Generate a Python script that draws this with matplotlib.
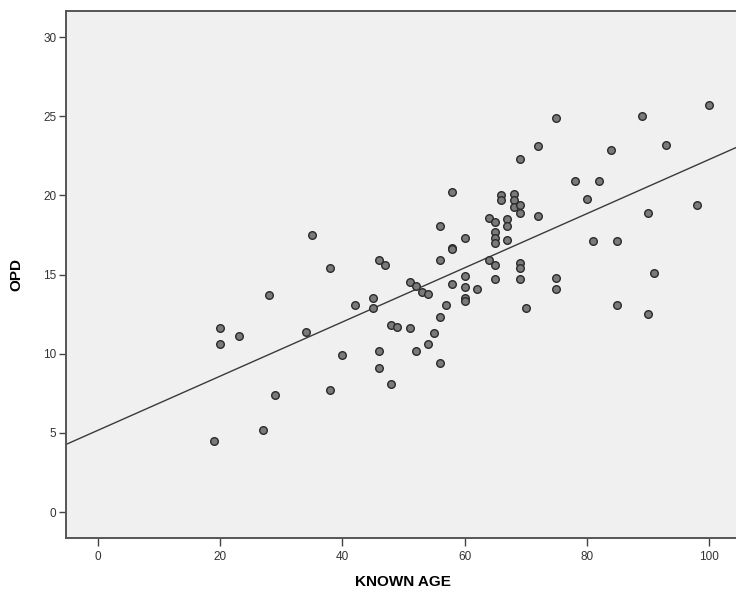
import matplotlib.pyplot as plt
import numpy as np

plt.rcParams['font.family'] = ['Liberation Sans', 'DejaVu Sans']

# known age (years) and OPD measurement per case
known_age = [19, 27, 29, 20, 20, 23, 28, 34, 35, 38, 38, 40, 42, 45, 45,
             46, 47, 46, 46, 48, 48, 49, 51, 52, 51, 52, 53, 54, 54, 55,
             56, 56, 57, 56, 56, 58, 58, 58, 58, 60, 60, 60, 60, 60, 62,
             64, 64, 65, 65, 65, 65, 65, 65, 66, 66, 67, 67, 67, 68, 68,
             68, 69, 69, 69, 69, 69, 69, 70, 72, 72, 75, 75, 75, 78, 80,
             81, 82, 84, 85, 85, 89, 90, 90, 91, 93, 98, 100]
opd = [4.5, 5.2, 7.4, 11.6, 10.6, 11.1, 13.7, 11.4, 17.5, 15.4, 7.7, 9.9,
       13.1, 13.5, 12.9, 15.9, 15.6, 10.2, 9.1, 8.1, 11.8, 11.7, 14.5, 14.3,
       11.6, 10.2, 13.9, 13.8, 10.6, 11.3, 9.4, 12.3, 13.1, 15.9, 18.1, 20.2,
       16.7, 16.6, 14.4, 17.3, 14.9, 14.2, 13.5, 13.3, 14.1, 18.6, 15.9, 18.3,
       17.7, 17.3, 17.0, 15.6, 14.7, 20.0, 19.7, 18.5, 18.1, 17.2, 20.1, 19.7,
       19.3, 19.4, 18.9, 22.3, 15.7, 15.4, 14.7, 12.9, 23.1, 18.7, 24.9, 14.8,
       14.1, 20.9, 19.8, 17.1, 20.9, 22.9, 17.1, 13.1, 25.0, 18.9, 12.5, 15.1,
       23.2, 19.4, 25.7]

x = np.array(known_age, dtype=float)
y = np.array(opd, dtype=float)
slope, intercept = np.polyfit(x, y, 1)

fig = plt.figure(figsize=(7.36, 5.94), dpi=100)
ax = fig.add_axes([66 / 736, 56 / 594, (739 - 66) / 736, (538 - 11) / 594])
ax.set_facecolor('#f0f0f0')

xlim = (-5.24, 104.9)
ax.set_xlim(*xlim)
ax.set_ylim(-1.64, 31.65)

xs = np.array(xlim)
ax.plot(xs, intercept + slope * xs, color='#3a3a3a', lw=1.0, zorder=2)
ax.scatter(x, y, s=30, facecolor='#7a7a7a', edgecolor='#2a2a2a',
           linewidth=1.0, zorder=3)

ax.set_xticks([0, 20, 40, 60, 80, 100])
ax.set_yticks([0, 5, 10, 15, 20, 25, 30])
ax.tick_params(axis='both', direction='out', width=1,
               color='#444444', labelsize=8.5, labelcolor='#333333')
ax.tick_params(axis='y', length=5, pad=2)
ax.tick_params(axis='x', length=6, pad=3)

for side in ('left', 'bottom', 'top', 'right'):
    ax.spines[side].set_color('#555555')
    ax.spines[side].set_linewidth(1.4)

ax.set_xlabel('KNOWN AGE', fontsize=11, fontweight='bold', labelpad=9)
ax.set_ylabel('OPD', fontsize=11, fontweight='bold', labelpad=14)

fig.savefig('out.png', dpi=100)
